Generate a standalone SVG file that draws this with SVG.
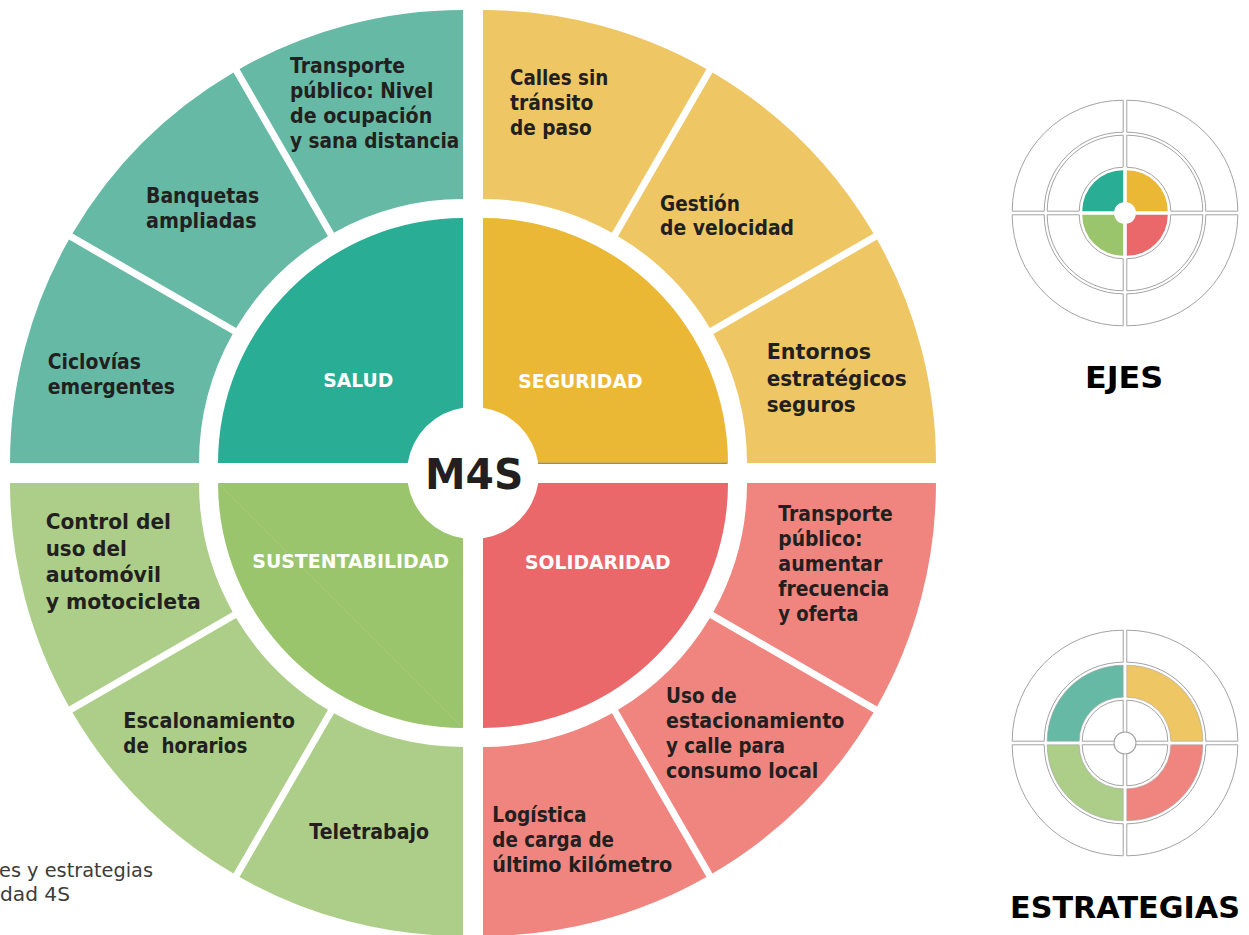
<svg xmlns="http://www.w3.org/2000/svg" xmlns:xlink="http://www.w3.org/1999/xlink" width="1249" height="935" viewBox="0 0 1249 935">
<style>
.t{font-family:"DejaVu Sans","Liberation Sans",sans-serif;font-weight:700;fill:#231f20;font-size:20.5px}
.tb{font-size:21.5px}
.ax{font-family:"DejaVu Sans","Liberation Sans",sans-serif;font-weight:700;fill:#ffffff;font-size:19px}
.ttl{font-family:"DejaVu Sans","Liberation Sans",sans-serif;font-weight:700;fill:#000000;font-size:30.5px}
.cap{font-family:"DejaVu Sans","Liberation Sans",sans-serif;font-weight:400;fill:#3c3c3c;font-size:19.5px}
.tlo{fill:#66b9a5}.tli{fill:#2aad95}
.yeo{fill:#efc664}.yei{fill:#ebb836}
.gro{fill:#acce88}.gri{fill:#9bc56d}
.reo{fill:#ef857e}.rei{fill:#ea6869}
.ic{fill:#ffffff;stroke:#a3a3a3;stroke-width:1}
</style>
<defs>
<path id="io" d="M -112.8,-1.8 A 111 111 0 0 1 -1.8,-112.8 L -1.8,-80.8 A 79 79 0 0 0 -80.8,-1.8 Z"/>
<path id="im" d="M -77.8,-1.8 A 76 76 0 0 1 -1.8,-77.8 L -1.8,-45.8 A 44 44 0 0 0 -45.8,-1.8 Z"/>
<path id="ii" d="M -42.8,-1.8 A 41 41 0 0 1 -1.8,-42.8 L -1.8,-10.85 A 11 11 0 0 0 -10.85,-1.8 Z"/>
</defs>
<rect x="0" y="0" width="1249" height="935" fill="#ffffff"/>

<!-- SALUD -->
<g id="salud">
<path class="tli" d="M 218,463 A 245 245 0 0 1 463,218 L 463,407.76 A 66 66 0 0 0 407.76,463 Z"/>
<text class="ax" x="323.3" y="387.3" textLength="70" lengthAdjust="spacingAndGlyphs">SALUD</text>
</g>
<g id="ciclovias">
<path class="tlo" d="M 10,463 A 453 453 0 0 1 68.95,239.54 L 232.64,334.04 A 264 264 0 0 0 199,463 Z"/>
<text class="t" x="47.7" y="369" textLength="93.3" lengthAdjust="spacingAndGlyphs">Ciclovías</text>
<text class="t" x="47.7" y="394.3" textLength="127.3" lengthAdjust="spacingAndGlyphs">emergentes</text>
</g>
<g id="banquetas">
<path class="tlo" d="M 72.45,233.48 A 453 453 0 0 1 233.48,72.45 L 327.98,236.14 A 264 264 0 0 0 236.14,327.98 Z"/>
<text class="t" x="146" y="203.3" textLength="113.3" lengthAdjust="spacingAndGlyphs">Banquetas</text>
<text class="t" x="146" y="228.3" textLength="110.7" lengthAdjust="spacingAndGlyphs">ampliadas</text>
</g>
<g id="transporte-nivel">
<path class="tlo" d="M 239.54,68.95 A 453 453 0 0 1 463,10 L 463,199 A 264 264 0 0 0 334.04,232.64 Z"/>
<text class="t" x="290" y="73.3" textLength="115" lengthAdjust="spacingAndGlyphs">Transporte</text>
<text class="t" x="290" y="97.8" textLength="143.3" lengthAdjust="spacingAndGlyphs">público: Nivel</text>
<text class="t" x="290" y="123" textLength="142.3" lengthAdjust="spacingAndGlyphs">de ocupación</text>
<text class="t" x="290" y="147.5" textLength="169.3" lengthAdjust="spacingAndGlyphs">y sana distancia</text>
</g>

<!-- SEGURIDAD -->
<g id="seguridad">
<path class="yei" d="M 728,463 A 245 245 0 0 0 483,218 L 483,407.76 A 66 66 0 0 1 538.24,463 Z"/>
<line x1="538" y1="463.4" x2="727.5" y2="463.4" stroke="#84908f" stroke-width="1.3"/>
<text class="ax" x="518.3" y="387.7" textLength="124.3" lengthAdjust="spacingAndGlyphs">SEGURIDAD</text>
</g>
<g id="calles">
<path class="yeo" d="M 706.46,68.95 A 453 453 0 0 0 483,10 L 483,199 A 264 264 0 0 1 611.96,232.64 Z"/>
<text class="t" x="510" y="85" textLength="98.3" lengthAdjust="spacingAndGlyphs">Calles sin</text>
<text class="t" x="510" y="110" textLength="83.3" lengthAdjust="spacingAndGlyphs">tránsito</text>
<text class="t" x="510" y="135" textLength="81.7" lengthAdjust="spacingAndGlyphs">de paso</text>
</g>
<g id="gestion">
<path class="yeo" d="M 873.55,233.48 A 453 453 0 0 0 712.52,72.45 L 618.02,236.14 A 264 264 0 0 1 709.86,327.98 Z"/>
<text class="t" x="660" y="210.7" textLength="80" lengthAdjust="spacingAndGlyphs">Gestión</text>
<text class="t" x="660" y="235.3" textLength="134" lengthAdjust="spacingAndGlyphs">de velocidad</text>
</g>
<g id="entornos">
<path class="yeo" d="M 936,463 A 453 453 0 0 0 877.05,239.54 L 713.36,334.04 A 264 264 0 0 1 747,463 Z"/>
<text class="t tb" x="766.7" y="359" textLength="104.3" lengthAdjust="spacingAndGlyphs">Entornos</text>
<text class="t tb" x="766.7" y="385.7" textLength="140" lengthAdjust="spacingAndGlyphs">estratégicos</text>
<text class="t tb" x="766.7" y="412.3" textLength="89" lengthAdjust="spacingAndGlyphs">seguros</text>
</g>

<!-- SUSTENTABILIDAD -->
<g id="sustentabilidad">
<path class="gri" d="M 218,483 A 245 245 0 0 0 463,728 L 463,538.24 A 66 66 0 0 1 407.76,483 Z"/>
<line x1="218.5" y1="483.5" x2="463" y2="728" stroke="#a7cc80" stroke-width="0.8"/>
<text class="ax" x="252.3" y="568.3" textLength="196.7" lengthAdjust="spacingAndGlyphs">SUSTENTABILIDAD</text>
</g>
<g id="control">
<path class="gro" d="M 10,483 A 453 453 0 0 0 68.95,706.46 L 232.64,611.96 A 264 264 0 0 1 199,483 Z"/>
<text class="t tb" x="45.7" y="529" textLength="125.3" lengthAdjust="spacingAndGlyphs">Control del</text>
<text class="t tb" x="45.7" y="555.7" textLength="81" lengthAdjust="spacingAndGlyphs">uso del</text>
<text class="t tb" x="45.7" y="582.3" textLength="115.3" lengthAdjust="spacingAndGlyphs">automóvil</text>
<text class="t tb" x="45.7" y="609" textLength="155" lengthAdjust="spacingAndGlyphs">y motocicleta</text>
</g>
<g id="escalonamiento">
<path class="gro" d="M 72.45,712.52 A 453 453 0 0 0 233.48,873.55 L 327.98,709.86 A 264 264 0 0 1 236.14,618.02 Z"/>
<text class="t" x="123.3" y="727.7" textLength="171.7" lengthAdjust="spacingAndGlyphs">Escalonamiento</text>
<text class="t" x="123.3" y="752.7" textLength="124" lengthAdjust="spacingAndGlyphs" xml:space="preserve" style="white-space:pre">de  horarios</text>
</g>
<g id="teletrabajo">
<path class="gro" d="M 239.54,877.05 A 453 453 0 0 0 463,936 L 463,747 A 264 264 0 0 1 334.04,713.36 Z"/>
<text class="t" x="309.3" y="839.3" textLength="119.7" lengthAdjust="spacingAndGlyphs">Teletrabajo</text>
</g>

<!-- SOLIDARIDAD -->
<g id="solidaridad">
<path class="rei" d="M 728,483 A 245 245 0 0 1 483,728 L 483,538.24 A 66 66 0 0 0 538.24,483 Z"/>
<text class="ax" x="525" y="569" textLength="145.7" lengthAdjust="spacingAndGlyphs">SOLIDARIDAD</text>
</g>
<g id="transporte-frecuencia">
<path class="reo" d="M 936,483 A 453 453 0 0 1 877.05,706.46 L 713.36,611.96 A 264 264 0 0 0 747,483 Z"/>
<text class="t" x="778.3" y="520.7" textLength="114.3" lengthAdjust="spacingAndGlyphs">Transporte</text>
<text class="t" x="778.3" y="545.7" textLength="84.3" lengthAdjust="spacingAndGlyphs">público:</text>
<text class="t" x="778.3" y="570.7" textLength="104" lengthAdjust="spacingAndGlyphs">aumentar</text>
<text class="t" x="778.3" y="595.7" textLength="111" lengthAdjust="spacingAndGlyphs">frecuencia</text>
<text class="t" x="778.3" y="620.7" textLength="80" lengthAdjust="spacingAndGlyphs">y oferta</text>
</g>
<g id="estacionamiento">
<path class="reo" d="M 873.55,712.52 A 453 453 0 0 1 712.52,873.55 L 618.02,709.86 A 264 264 0 0 0 709.86,618.02 Z"/>
<text class="t" x="666" y="703.3" textLength="70.7" lengthAdjust="spacingAndGlyphs">Uso de</text>
<text class="t" x="666" y="728.3" textLength="178.3" lengthAdjust="spacingAndGlyphs">estacionamiento</text>
<text class="t" x="666" y="753.3" textLength="119" lengthAdjust="spacingAndGlyphs">y calle para</text>
<text class="t" x="666" y="778.3" textLength="152.3" lengthAdjust="spacingAndGlyphs">consumo local</text>
</g>
<g id="logistica">
<path class="reo" d="M 706.46,877.05 A 453 453 0 0 1 483,936 L 483,747 A 264 264 0 0 0 611.96,713.36 Z"/>
<text class="t" x="492.3" y="821.7" textLength="94.3" lengthAdjust="spacingAndGlyphs">Logística</text>
<text class="t" x="492.3" y="846.7" textLength="121.7" lengthAdjust="spacingAndGlyphs">de carga de</text>
<text class="t" x="492.3" y="871.7" textLength="180" lengthAdjust="spacingAndGlyphs">último kilómetro</text>
</g>

<!-- centre -->
<g id="m4s">
<circle cx="473" cy="473" r="64" fill="#ffffff"/>
<text x="425" y="489.3" textLength="98.3" lengthAdjust="spacingAndGlyphs" style="font-family:'DejaVu Sans','Liberation Sans',sans-serif;font-weight:700;font-size:42.5px;fill:#231f20">M4S</text>
</g>

<g id="connectors"></g>

<!-- EJES icon -->
<g id="ejes-icon">
<g transform="translate(1125,213)">
<use xlink:href="#io" class="ic"/>
<use xlink:href="#io" class="ic" transform="scale(-1,1)"/>
<use xlink:href="#io" class="ic" transform="scale(1,-1)"/>
<use xlink:href="#io" class="ic" transform="scale(-1,-1)"/>
<use xlink:href="#im" class="ic"/>
<use xlink:href="#im" class="ic" transform="scale(-1,1)"/>
<use xlink:href="#im" class="ic" transform="scale(1,-1)"/>
<use xlink:href="#im" class="ic" transform="scale(-1,-1)"/>
<use xlink:href="#ii" class="tli"/>
<use xlink:href="#ii" class="yei" transform="scale(-1,1)"/>
<use xlink:href="#ii" class="gri" transform="scale(1,-1)"/>
<use xlink:href="#ii" class="rei" transform="scale(-1,-1)"/>
</g>
<text class="ttl" x="1085" y="388.3" textLength="78.3" lengthAdjust="spacingAndGlyphs">EJES</text>
</g>

<!-- ESTRATEGIAS icon -->
<g id="estrategias-icon">
<g transform="translate(1125,743)">
<use xlink:href="#io" class="ic"/>
<use xlink:href="#io" class="ic" transform="scale(-1,1)"/>
<use xlink:href="#io" class="ic" transform="scale(1,-1)"/>
<use xlink:href="#io" class="ic" transform="scale(-1,-1)"/>
<use xlink:href="#im" class="tlo" stroke="#a3a3a3" stroke-width="0.6"/>
<use xlink:href="#im" class="yeo" stroke="#a3a3a3" stroke-width="0.6" transform="scale(-1,1)"/>
<use xlink:href="#im" class="gro" stroke="#a3a3a3" stroke-width="0.6" transform="scale(1,-1)"/>
<use xlink:href="#im" class="reo" stroke="#a3a3a3" stroke-width="0.6" transform="scale(-1,-1)"/>
<use xlink:href="#ii" class="ic"/>
<use xlink:href="#ii" class="ic" transform="scale(-1,1)"/>
<use xlink:href="#ii" class="ic" transform="scale(1,-1)"/>
<use xlink:href="#ii" class="ic" transform="scale(-1,-1)"/>
<circle cx="0" cy="0" r="11" fill="none" stroke="#a3a3a3" stroke-width="1"/>
</g>
<text class="ttl" x="1010" y="917.7" textLength="230" lengthAdjust="spacingAndGlyphs">ESTRATEGIAS</text>
</g>

<!-- caption (cropped) -->
<g id="caption">
<text class="cap" x="-1" y="876.5" textLength="154" lengthAdjust="spacingAndGlyphs">es y estrategias</text>
<text class="cap" x="0" y="900.5" textLength="70" lengthAdjust="spacingAndGlyphs">dad 4S</text>
</g>
</svg>
